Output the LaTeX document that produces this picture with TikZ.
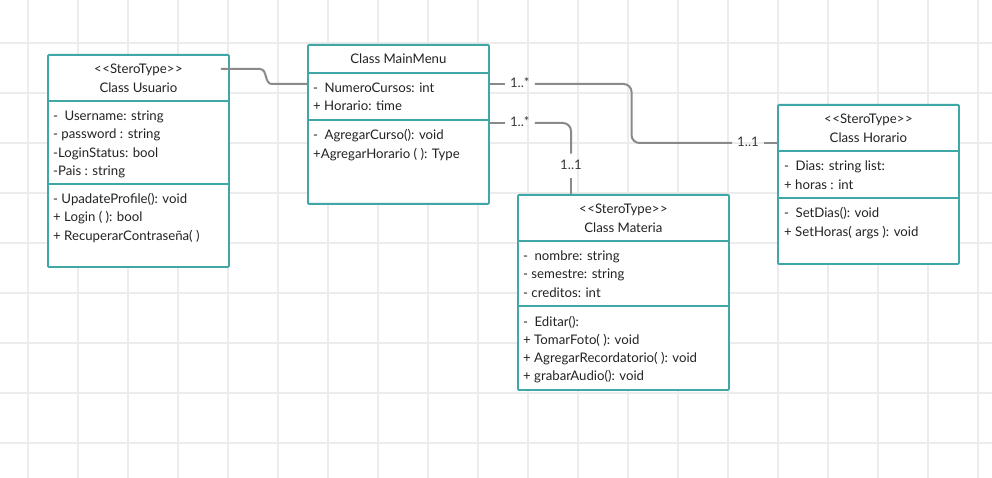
\documentclass[tikz,border=0pt]{standalone}
\usepackage{fontspec}
\setmainfont{Lato}
\usetikzlibrary{calc}
\definecolor{umlteal}{RGB}{64,166,166}
\definecolor{linkgray}{RGB}{138,138,138}
\definecolor{gridgray}{RGB}{236,236,236}
\definecolor{inkgray}{RGB}{35,35,35}
\newcommand{\umlfont}{\fontsize{13.2}{15}\selectfont}
\newcommand{\privsp}{-\hspace{6.5pt}}
\newcommand{\stereo}[1]{<\kern0.6pt<#1>\kern0.6pt>}
\tikzset{
  classbox/.style={draw=umlteal, line width=1.8pt, fill=white, rounded corners=1pt,
    anchor=north west, inner sep=0pt},
  divline/.style={draw=umlteal, line width=1.8pt},
  rowtext/.style={anchor=west, inner sep=0pt, text height=9pt, text depth=2.5pt,
    yshift=-1.5pt, font=\umlfont, text=inkgray},
  headtext/.style={inner sep=0pt, text height=9pt, text depth=2.5pt, yshift=-1.5pt,
    font=\umlfont, text=inkgray},
  link/.style={draw=linkgray, line width=2pt, rounded corners=8pt},
  mult/.style={inner xsep=5pt, inner ysep=6.5pt, text height=9pt, text depth=2.5pt,
    font=\umlfont, text=darkgray!90!black},
  gridline/.style={draw=gridgray, line width=1.5pt}
}
\begin{document}
\begin{tikzpicture}[x=1pt, y=-1pt]
\useasboundingbox[fill=white] (0,0) rectangle (992,478);
%grid
\foreach \x in {28,78,...,978}{
  \draw[gridline] (\x,0) -- (\x,478);
}
\foreach \y in {43,93,...,443}{
  \draw[gridline] (0,\y) -- (992,\y);
}
%class Usuario
\node[classbox, minimum width=181pt, minimum height=212pt] (usuario) at (47,54) {};
\draw[divline] ($(usuario.north west)+(0,47)$) -- ($(usuario.north east)+(0,47)$);
\draw[divline] ($(usuario.north west)+(0,130)$) -- ($(usuario.north east)+(0,130)$);
\node[headtext] (usr-st) at ($(usuario.north)+(0,15)$) {\stereo{SteroType}};
\node[headtext] (usr-ti) at ($(usuario.north)+(0,34)$) {Class Usuario};
\foreach \row [count=\i from 0] in {{\privsp Username: string},{- password : string},{-LoginStatus: bool},{-Pais : string}}{
  \node[rowtext] (usr-a\i) at ($(usuario.north west)+(6,61.7+18.35*\i)$) {\row};
}
\foreach \row [count=\i from 0] in {{- UpadateProfile(): void},{+ Login ( ): bool},{+ RecuperarContraseña( )}}{
  \node[rowtext] (usr-m\i) at ($(usuario.north west)+(6,144.3+18.5*\i)$) {\row};
}
%class MainMenu
\node[classbox, minimum width=181pt, minimum height=159pt] (menu) at (307,44) {};
\draw[divline] ($(menu.north west)+(0,29)$) -- ($(menu.north east)+(0,29)$);
\draw[divline] ($(menu.north west)+(0,76)$) -- ($(menu.north east)+(0,76)$);
\node[headtext] (menu-ti) at ($(menu.north)+(0,15)$) {Class MainMenu};
\foreach \row [count=\i from 0] in {{\privsp NumeroCursos: int},{+ Horario: time}}{
  \node[rowtext] (menu-a\i) at ($(menu.north west)+(6,43.3+18.7*\i)$) {\row};
}
\foreach \row [count=\i from 0] in {{\privsp AgregarCurso(): void},{+AgregarHorario ( ): Type}}{
  \node[rowtext] (menu-m\i) at ($(menu.north west)+(6,90.3+19*\i)$) {\row};
}
%class Materia
\node[classbox, minimum width=211pt, minimum height=195pt] (materia) at (517,194) {};
\draw[divline] ($(materia.north west)+(0,47)$) -- ($(materia.north east)+(0,47)$);
\draw[divline] ($(materia.north west)+(0,112)$) -- ($(materia.north east)+(0,112)$);
\node[headtext] (mat-st) at ($(materia.north)+(0,15)$) {\stereo{SteroType}};
\node[headtext] (mat-ti) at ($(materia.north)+(0,33.7)$) {Class Materia};
\foreach \row [count=\i from 0] in {{\privsp nombre: string},{- semestre: string},{- creditos: int}}{
  \node[rowtext] (mat-a\i) at ($(materia.north west)+(6,61.7+18.3*\i)$) {\row};
}
\foreach \row [count=\i from 0] in {{\privsp Editar():},{+ TomarFoto( ): void},{+ AgregarRecordatorio( ): void},{+ grabarAudio(): void}}{
  \node[rowtext] (mat-m\i) at ($(materia.north west)+(6,127.7+18*\i)$) {\row};
}
%class Horario
\node[classbox, minimum width=181pt, minimum height=159pt] (horario) at (777,104) {};
\draw[divline] ($(horario.north west)+(0,47)$) -- ($(horario.north east)+(0,47)$);
\draw[divline] ($(horario.north west)+(0,94.3)$) -- ($(horario.north east)+(0,94.3)$);
\node[headtext] (hor-st) at ($(horario.north)+(0,15)$) {\stereo{SteroType}};
\node[headtext] (hor-ti) at ($(horario.north)+(0,33.7)$) {Class Horario};
\foreach \row [count=\i from 0] in {{\privsp Dias: string list:},{+ horas : int}}{
  \node[rowtext] (hor-a\i) at ($(horario.north west)+(7,61.7+18.6*\i)$) {\row};
}
\foreach \row [count=\i from 0] in {{\privsp SetDias(): void},{+ SetHoras( args ): void}}{
  \node[rowtext] (hor-m\i) at ($(horario.north west)+(7,108.3+19.3*\i)$) {\row};
}
%links
\coordinate (usr-start) at ($(usuario.north east)+(-9,15)$);
\draw[link, sharp corners] (usr-start) -- ($(usr-start)+(39,0)$)
  .. controls ($(usr-start)+(47,0)$) and ($(menu.north west)+(-43,40)$) .. ($(menu.north west)+(-35,40)$)
  -- ($(menu.north west)+(0,40)$);
\node[mult] (hor-many) at ($(menu.north east)+(30,40)$) {1..*};
\node[mult] (hor-one) at ($(horario.north west)+(-29,39)$) {1..1};
\draw[link] (menu.east |- hor-many) -- (hor-many.west);
\draw[link] (hor-many.east) -| ($(hor-one.west)+(-100.5,0)$) -- (hor-one.west);
\draw[link] (hor-one.east) -- (horario.west |- hor-one);
\node[mult] (mat-many) at ($(menu.north east)+(30,79)$) {1..*};
\node[mult] (mat-one) at ($(materia.north west)+(54,-28)$) {1..1};
\draw[link] (menu.east |- mat-many) -- (mat-many.west);
\draw[link] (mat-many.east) -| (mat-one.north);
\draw[link] (mat-one.south) -- (mat-one |- materia.north);
\end{tikzpicture}
\end{document}
